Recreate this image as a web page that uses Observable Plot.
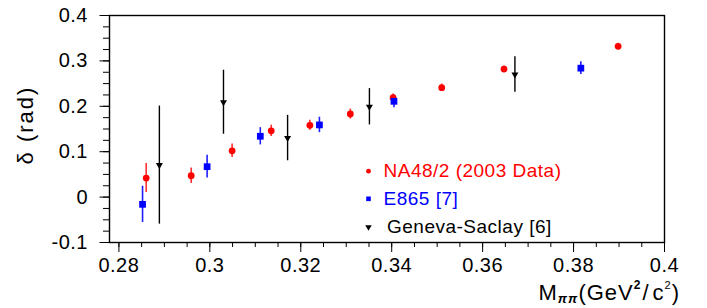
<!DOCTYPE html>
<html><head><meta charset="utf-8">
<script src="https://cdn.jsdelivr.net/npm/d3@7"></script>
<script src="https://cdn.jsdelivr.net/npm/@observablehq/plot@0.6"></script>
<style>body{margin:0;background:#fff} svg{display:block}</style>
</head><body><div id="chart"></div>
<script>
// NA48/2 (2003 Data)
const naMass  = [0.2860, 0.2959, 0.3049, 0.3135, 0.3220, 0.3309, 0.3403, 0.3510, 0.3647, 0.3898];
const naDelta = [0.042, 0.047, 0.102, 0.146, 0.158, 0.183, 0.219, 0.241, 0.282, 0.332];
const naErr   = [0.032, 0.017, 0.015, 0.0125, 0.011, 0.011, 0.008, 0.008, 0.007, 0.007];
// E865 [7]
const e865Mass  = [0.2852, 0.2994, 0.3111, 0.3241, 0.3405, 0.3816];
const e865Delta = [-0.016, 0.067, 0.134, 0.159, 0.211, 0.284];
const e865Err   = [0.040, 0.025, 0.019, 0.017, 0.014, 0.014];
// Geneva-Saclay [6]
const gsMass  = [0.2889, 0.3030, 0.3171, 0.3351, 0.3671];
const gsDelta = [0.0705, 0.209, 0.130, 0.199, 0.270];
const gsErr   = [0.130, 0.0705, 0.050, 0.040, 0.039];

const xTicks = [0.28, 0.30, 0.32, 0.34, 0.36, 0.38, 0.40];
const xTickLabels = ["0.28", "0.3", "0.32", "0.34", "0.36", "0.38", "0.4"];
const yTicks = [-0.1, 0, 0.1, 0.2, 0.3, 0.4];
const yTickLabels = ["-0.1", "0", "0.1", "0.2", "0.3", "0.4"];
const legendLabels = ["NA48/2 (2003 Data)", "E865 [7]", "Geneva-Saclay [6]"];
const seriesColors = ["#ff0000", "#0000ff", "#000000"];

const table = (m, d, e) => m.map((x, i) => ({x, y: d[i], lo: d[i] - e[i], hi: d[i] + e[i]}));
const na = table(naMass, naDelta, naErr);
const e865 = table(e865Mass, e865Delta, e865Err);
const gs = table(gsMass, gsDelta, gsErr);

const xLab = new Map(xTicks.map((t, i) => [t.toFixed(3), xTickLabels[i]]));
const yLab = new Map(yTicks.map((t, i) => [t.toFixed(3), yTickLabels[i]]));
const xMinor = d3.range(0, 25).map(i => 0.28 + i * 0.005);
const yMinor = d3.range(0, 21).map(i => -0.1 + i * 0.025);

const font = "Liberation Sans, Arial, Helvetica, sans-serif";
const legendRows = [
  {dy: 155.7, sym: "circle", r: 2.4, tx: 274},
  {dy: 183.3, sym: "square", r: 2.6, tx: 274},
  {dy: 211.5, sym: "triangle", r: 2.4, tx: 277.5}
];
const legendMarks = legendRows.flatMap((row, i) => [
  Plot.dot([legendLabels[i]], {frameAnchor: "top-left", dx: 259, dy: row.dy, r: row.r, symbol: row.sym,
    rotate: row.sym === "triangle" ? 180 : 0, fill: seriesColors[i], stroke: "none"}),
  Plot.text([legendLabels[i]], {frameAnchor: "top-left", dx: row.tx, dy: row.dy, text: d => d,
    textAnchor: "start", lineAnchor: "middle", fill: seriesColors[i], fontSize: 19, fontFamily: font})
]);

const plot = Plot.plot({
  width: 707, height: 308,
  marginLeft: 109, marginRight: 43, marginTop: 15, marginBottom: 66,
  x: {domain: [0.27793, 0.4]},
  y: {domain: [-0.1, 0.4]},
  style: {fontFamily: font, fontSize: "20px", background: "#fff", color: "#000", letterSpacing: "0.5px"},
  marks: [
    Plot.axisY({ticks: yMinor, tickSize: 6, tickFormat: () => "", label: null}),
    Plot.axisY({ticks: yTicks, tickSize: 9.5, tickPadding: 12, fontSize: 20,
      tickFormat: d => yLab.get(d.toFixed(3)), label: null}),
    Plot.axisX({ticks: xMinor, tickSize: 5, tickFormat: () => "", label: null}),
    Plot.axisX({ticks: xTicks, tickSize: 10, tickPadding: 5, fontSize: 20,
      tickFormat: d => xLab.get(d.toFixed(3)), label: null}),
    Plot.ruleX(na, {x: "x", y1: "lo", y2: "hi", stroke: "#ff3030", strokeWidth: 1.6}),
    Plot.ruleX(e865, {x: "x", y1: "lo", y2: "hi", stroke: "#2020ff", strokeWidth: 1.6}),
    Plot.ruleX(gs, {x: "x", y1: "lo", y2: "hi", stroke: "#000", strokeWidth: 1.4}),
    Plot.dot(na, {x: "x", y: "y", r: 3.4, fill: seriesColors[0], stroke: "none"}),
    Plot.dot(e865, {x: "x", y: "y", r: 3.8, symbol: "square", fill: seriesColors[1], stroke: "none"}),
    Plot.dot(gs, {x: "x", y: "y", r: 2.6, symbol: "triangle", rotate: 180, fill: seriesColors[2], stroke: "none"}),
    ...legendMarks,
    Plot.frame({stroke: "#000", strokeWidth: 1.4})
  ]
});

const svg = d3.select(plot);
// y-axis title
svg.append("text")
  .attr("transform", "translate(33,125) rotate(-90)")
  .attr("text-anchor", "middle")
  .attr("font-family", font).attr("font-size", 22).attr("letter-spacing", "2px")
  .attr("fill", "#000")
  .text("δ (rad)");
// x-axis title with sub/superscripts
const xt = svg.append("text")
  .attr("x", 680).attr("y", 300)
  .attr("text-anchor", "end")
  .attr("font-family", font).attr("font-size", 22).attr("letter-spacing", "1px").attr("fill", "#000");
xt.append("tspan").text("M");
xt.append("tspan").attr("font-size", 13).attr("font-weight", "bold").attr("font-style", "italic").attr("dy", 3).text("ππ");
xt.append("tspan").attr("dy", -3).text("(GeV");
xt.append("tspan").attr("font-size", 12).attr("font-weight", "bold").attr("dy", -11).text("2");
xt.append("tspan").attr("dy", 11).attr("dx", 1).text("/");
xt.append("tspan").attr("dx", 3).text("c");
xt.append("tspan").attr("font-size", 11).attr("dy", -11).text("2");
xt.append("tspan").attr("dy", 11).text(")");

document.getElementById("chart").appendChild(plot);
</script>
</body></html>
